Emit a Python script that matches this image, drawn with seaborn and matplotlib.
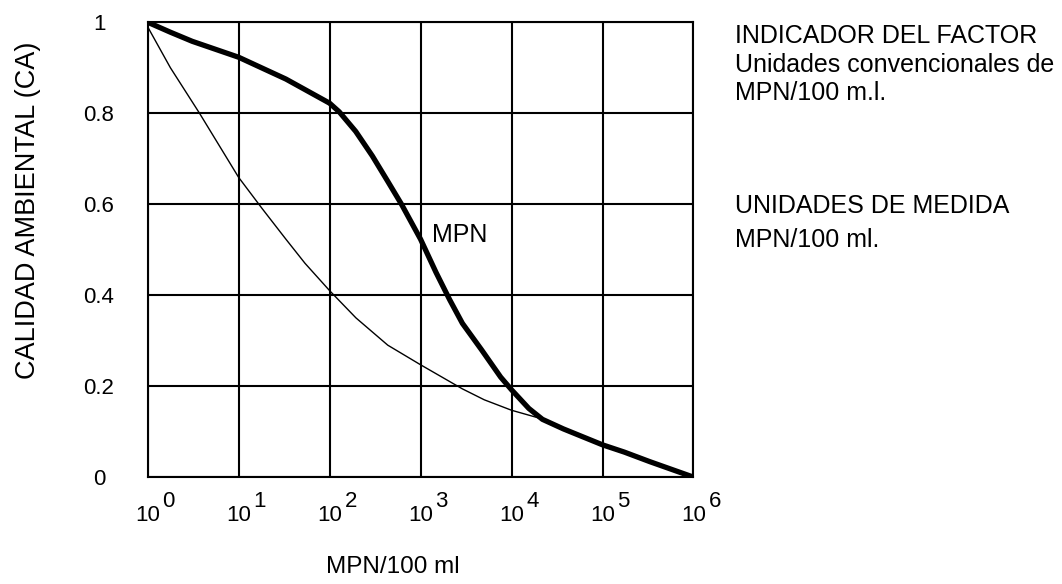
import numpy as np
import pandas as pd
import matplotlib
matplotlib.use("Agg")
import matplotlib.pyplot as plt
import matplotlib.transforms as mtransforms
import seaborn as sns

# curva MPN (gruesa) y curva delgada; x en exponentes de 10
mpn_exp = [0, 0.25, 0.49, 1.0, 1.52, 2.0, 2.106, 2.287, 2.47, 2.64, 2.79, 3.0, 3.17, 3.32, 3.46,
           3.67, 3.88, 4.0, 4.19, 4.34, 4.57, 5.0, 5.24, 5.52, 6.0]
mpn_ca = [1.0, 0.978, 0.958, 0.923, 0.875, 0.822, 0.803, 0.76, 0.706, 0.65, 0.60, 0.523, 0.45, 0.39, 0.338,
          0.28, 0.22, 0.192, 0.151, 0.127, 0.106, 0.071, 0.055, 0.034, 0.0]

thin_exp = [0, 0.25, 0.57, 1.0, 1.26, 1.52, 1.73, 2.0, 2.29, 2.64, 3.0, 3.46, 3.7, 4.0, 4.3]
thin_ca = [0.99, 0.90, 0.80, 0.659, 0.59, 0.523, 0.47, 0.41, 0.35, 0.29, 0.247, 0.194, 0.17, 0.147, 0.13]

x_ticks = [0, 1, 2, 3, 4, 5, 6]
y_ticks = [0, 0.2, 0.4, 0.6, 0.8, 1]
y_ticklabels = ["0", "0.2", "0.4", "0.6", "0.8", "1"]

sns.set_theme(style="white")
plt.rcParams['font.family'] = ['Liberation Sans', 'DejaVu Sans']
plt.rcParams['text.color'] = 'black'
plt.rcParams['axes.labelcolor'] = 'black'
plt.rcParams['xtick.color'] = 'black'
plt.rcParams['ytick.color'] = 'black'

df_mpn = pd.DataFrame({"MPN": [10.0 ** e for e in mpn_exp], "CA": mpn_ca})
df_thin = pd.DataFrame({"MPN": [10.0 ** e for e in thin_exp], "CA": thin_ca})

fig = plt.figure(figsize=(10.62, 5.84), dpi=100)
ax = fig.add_axes([0.139, 0.183, 0.514, 0.779])

sns.lineplot(data=df_thin, x="MPN", y="CA", ax=ax, color="black", linewidth=1.0)
sns.lineplot(data=df_mpn, x="MPN", y="CA", ax=ax, color="black", linewidth=3.8)

ax.set_xscale("log")
ax.set_xlim(1, 1e6)
ax.set_ylim(0, 1)
ax.set_xticks([10.0 ** e for e in x_ticks])
ax.set_xticklabels(["10"] * len(x_ticks), fontsize=16)
ax.minorticks_off()
ax.set_yticks(y_ticks)
ax.set_yticklabels(y_ticklabels, fontsize=16, ha="center")
ax.tick_params(axis="y", length=0, pad=35)
ax.tick_params(axis="x", length=0, pad=20)
ax.grid(True, color="black", linewidth=1.5)
for s in ax.spines.values():
    s.set_color("black")
    s.set_linewidth(1.5)

# exponentes de las etiquetas del eje x
trans = mtransforms.blended_transform_factory(ax.transData, fig.transFigure)
trans = mtransforms.offset_copy(trans, fig=fig, x=15, y=0, units="dots")
for e in x_ticks:
    ax.text(10.0 ** e, 0.132, str(e), transform=trans, fontsize=16, ha="left", va="baseline")

ax.set_xlabel("")
ax.set_ylabel("")
fig.text(0.026, 0.64, "CALIDAD AMBIENTAL (CA)", fontsize=19.5, rotation=90, ha="center", va="center")
fig.text(0.370, 0.029, "MPN/100 ml", fontsize=17.5, ha="center", va="center")

ax.text(10 ** 3.13, 0.516, "MPN", fontsize=18, va="baseline")

fig.text(0.692, 0.926, "INDICADOR DEL FACTOR", fontsize=18, va="baseline")
fig.text(0.692, 0.877, "Unidades convencionales de", fontsize=18, va="baseline")
fig.text(0.692, 0.829, "MPN/100 m.l.", fontsize=18, va="baseline")
fig.text(0.692, 0.635, "UNIDADES DE MEDIDA", fontsize=18, va="baseline")
fig.text(0.692, 0.577, "MPN/100 ml.", fontsize=18, va="baseline")

fig.savefig("out.png", dpi=100)
